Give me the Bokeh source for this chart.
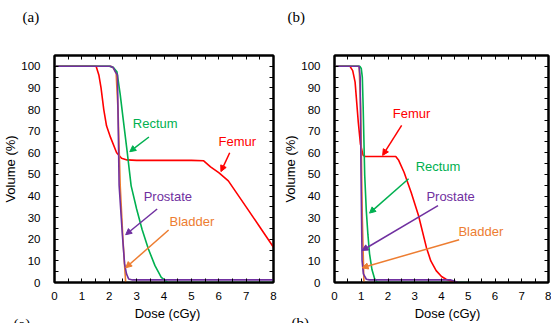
from bokeh.plotting import figure
from bokeh.layouts import row, column
from bokeh.models import (FixedTicker, LinearAxis, Range1d, Label, Arrow, NormalHead,
                          CustomLabelingPolicy)
from bokeh.embed import file_html
from bokeh.resources import INLINE

# ---------------- data (dose in cGy, volume in %) ----------------
# panel (a)
a_femur_dose = [0, 1.52, 1.62, 1.70, 1.80, 1.90, 2.05, 2.27, 2.45, 2.65, 3.0, 4.0, 5.0, 5.45, 5.7, 6.0, 6.35, 7.0, 7.5, 8.0]
a_femur_vol = [100, 100, 96, 90, 80, 72.5, 67, 60, 57.5, 56.7, 56.5, 56.5, 56.5, 56.3, 53.5, 50.8, 47, 35, 25.7, 16.3]
a_rectum_dose = [0, 2.0, 2.15, 2.28, 2.4, 2.5, 2.65, 2.8, 3.0, 3.2, 3.43, 3.67, 3.9, 4.14, 8.0]
a_rectum_vol = [100, 100, 99.5, 97.5, 87, 76.5, 61, 44.7, 34, 24.5, 15.5, 7.8, 2.4, 0, 0]
a_prostate_dose = [0, 2.05, 2.15, 2.22, 2.30, 2.36, 2.48, 2.56, 2.63, 2.71, 2.85, 8.0]
a_prostate_vol = [100, 100, 99.3, 97.5, 96, 45, 22, 8.6, 4, 1.6, 1.2, 1.2]
a_bladder_dose = [0, 2.05, 2.15, 2.25, 2.32, 2.4, 2.5, 2.6]
a_bladder_vol = [100, 100, 99.3, 97, 80, 45, 20, 0]

# panel (b)
b_femur_dose = [0, 0.58, 0.68, 0.77, 0.89, 0.97, 1.07, 1.15, 2.29, 2.4, 2.6, 2.87, 3.14, 3.44, 3.6, 3.8, 4.0, 4.17, 4.4, 4.6]
b_femur_vol = [100, 100, 98, 92.7, 74, 64, 58.8, 58.3, 58.3, 56.5, 51, 41.5, 31, 16, 10, 5.5, 2.8, 1.5, 0.5, 0]
b_rectum_dose = [0, 0.95, 1.0, 1.04, 1.07, 1.13, 1.19, 1.25, 1.31, 1.4, 1.5, 1.6, 1.7, 5.07]
b_rectum_vol = [100, 100, 99, 95, 82, 49.5, 33, 22, 13.3, 6, 1.7, 0.2, 0, 0]
b_prostate_dose = [0, 0.92, 0.96, 0.99, 1.03, 1.08, 1.19, 1.3, 4.35, 4.5, 4.6]
b_prostate_vol = [100, 100, 95, 52, 10.2, 4, 1.5, 1.2, 1.2, 0.6, 0]
b_bladder_dose = [0, 0.92, 0.98, 1.04, 1.1]
b_bladder_vol = [100, 100, 80, 30, 0]

x_ticks = [0, 1, 2, 3, 4, 5, 6, 7, 8]
y_ticks = [0, 10, 20, 30, 40, 50, 60, 70, 80, 90, 100]

RED = "#ff0000"
GREEN = "#00b050"
PURPLE = "#7030a0"
ORANGE = "#ed7d31"
FONT = "Liberation Sans"
SERIF = "Liberation Serif"

TOP_H = 30      # strip above the panels (panel tags)
BOT_H = 17      # strip below the panels (axis titles + lower tags)
MAIN_H = 323 - TOP_H - BOT_H


def make_panel(width, border_right, series, notes):
    p = figure(width=width, height=MAIN_H, output_backend="svg", toolbar_location=None,
               x_range=Range1d(0, 8), y_range=Range1d(0, 105),
               min_border_left=49, min_border_right=border_right,
               min_border_top=55 - TOP_H, min_border_bottom=MAIN_H - (55 - TOP_H) - 227,
               y_axis_label="Volume (%)")
    p.grid.visible = False
    p.outline_line_color = "black"
    p.outline_line_width = 2
    p.background_fill_color = "white"
    p.border_fill_color = "white"

    xt = FixedTicker(ticks=x_ticks, minor_ticks=[t + 0.5 for t in x_ticks[:-1]])
    yt = FixedTicker(ticks=y_ticks, minor_ticks=[t + 5 for t in y_ticks[:-1]])

    p.add_layout(LinearAxis(), "right")
    p.add_layout(LinearAxis(), "above")

    for ax in p.axis:
        ax.axis_line_width = 2
        ax.axis_line_color = "black"
        ax.major_tick_in = 4
        ax.major_tick_out = 0
        ax.minor_tick_in = 4
        ax.minor_tick_out = 0
        ax.major_tick_line_color = "black"
        ax.minor_tick_line_color = "black"
        ax.major_label_text_font = FONT
        ax.major_label_text_font_size = "11.5px"
        ax.major_label_text_color = "black"
        ax.axis_label_text_font = FONT
        ax.axis_label_text_font_size = "13px"
        ax.axis_label_text_font_style = "normal"
        ax.axis_label_text_color = "black"

    for ax in p.xaxis:
        ax.ticker = xt
    for ax in p.yaxis:
        ax.ticker = yt

    p.below[0].major_label_standoff = 9
    p.left[0].major_label_standoff = 14
    p.left[0].axis_label_standoff = 0

    # mirrored tick marks on the top and right edges, without labels
    for ax in (p.right[0], p.above[0]):
        ax.major_label_policy = CustomLabelingPolicy(code="return []")
        ax.major_label_text_font_size = "0px"
        ax.major_label_standoff = 0
        ax.axis_label = None

    for xs, ys, c in series:
        p.line(xs, ys, line_color=c, line_width=1.6)

    for text, tx, ty, c, x0, y0, x1, y1 in notes:
        p.add_layout(Label(x=tx, y=ty, text=text, text_color=c, text_font=FONT,
                           text_font_size="13px", text_align="center",
                           text_baseline="middle"))
        p.add_layout(Arrow(x_start=x0, y_start=y0, x_end=x1, y_end=y1,
                           line_color=c, line_width=1.5,
                           end=NormalHead(size=6, fill_color=c, line_color=c)))
    return p


def make_strip(height, texts):
    s = figure(width=551, height=height, output_backend="svg", toolbar_location=None,
               x_range=Range1d(0, 551), y_range=Range1d(0, height),
               x_axis_type=None, y_axis_type=None, min_border=0)
    s.outline_line_color = None
    s.background_fill_color = "white"
    s.border_fill_color = "white"
    for text, x, y, font, size, align, baseline in texts:
        s.add_layout(Label(x=x, y=y, x_units="screen", y_units="screen", text=text,
                           text_font=font, text_font_size=size, text_color="black",
                           text_align=align, text_baseline=baseline))
    return s


pa = make_panel(
    280, 7,
    [(a_femur_dose, a_femur_vol, RED),
     (a_bladder_dose, a_bladder_vol, ORANGE),
     (a_rectum_dose, a_rectum_vol, GREEN),
     (a_prostate_dose, a_prostate_vol, PURPLE)],
    [("Rectum", 3.68, 73.4, GREEN, 3.45, 67.3, 2.75, 60.5),
     ("Femur", 6.68, 65.1, RED, 6.40, 60.0, 6.08, 51.3),
     ("Prostate", 4.14, 39.6, PURPLE, 3.75, 34.0, 2.60, 22.1),
     ("Bladder", 5.02, 28.2, ORANGE, 4.17, 24.3, 2.60, 6.8)])

pb = make_panel(
    271, 3,
    [(b_femur_dose, b_femur_vol, RED),
     (b_bladder_dose, b_bladder_vol, ORANGE),
     (b_rectum_dose, b_rectum_vol, GREEN),
     (b_prostate_dose, b_prostate_vol, PURPLE)],
    [("Femur", 2.88, 78.4, RED, 2.51, 72.7, 1.80, 58.8),
     ("Rectum", 3.87, 53.7, GREEN, 2.77, 48.0, 1.31, 32.1),
     ("Prostate", 4.34, 39.8, PURPLE, 3.87, 35.6, 1.03, 14.8),
     ("Bladder", 5.47, 23.8, ORANGE, 4.66, 19.8, 1.03, 6.8)])

top = make_strip(TOP_H, [
    ("(a)", 22, TOP_H - 16, SERIF, "15px", "left", "middle"),
    ("(b)", 287, TOP_H - 16, SERIF, "15px", "left", "middle"),
])
bottom = make_strip(BOT_H, [
    ("Dose (cGy)", 167, 323 - 313, FONT, "13px", "center", "middle"),
    ("Dose (cGy)", 447, 323 - 313, FONT, "13px", "center", "middle"),
    ("(a)", 13, 323 - 315, SERIF, "15px", "left", "top"),
    ("(b)", 291, 323 - 314, SERIF, "15px", "left", "top"),
])

layout = column(top, row(pa, pb), bottom)
open("out.html", "w").write(file_html(layout, INLINE))
